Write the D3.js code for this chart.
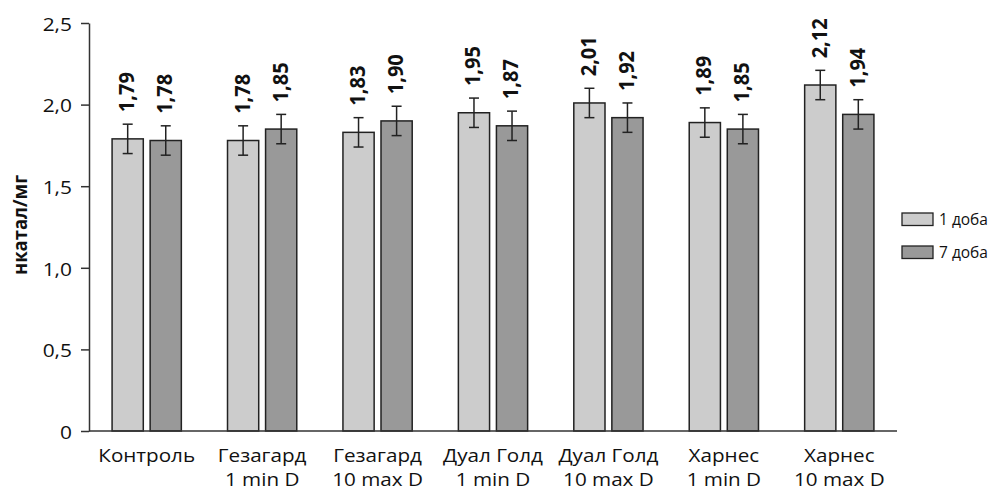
<!DOCTYPE html>
<html>
<head>
<meta charset="utf-8">
<script src="https://cdn.jsdelivr.net/npm/d3@7"></script>
<style>
  html, body { margin: 0; padding: 0; background: #fff; }
  svg { display: block; font-family: "Open Sans", "Noto Sans", sans-serif; }
</style>
</head>
<body>
<svg id="chart" width="997" height="492"></svg>
<script>
// ---- data ----
const categories = [
  ["Контроль", ""],
  ["Гезагард", "1 min D"],
  ["Гезагард", "10 max D"],
  ["Дуал Голд", "1 min D"],
  ["Дуал Голд", "10 max D"],
  ["Харнес", "1 min D"],
  ["Харнес", "10 max D"]
];
const seriesNames = ["1 доба", "7 доба"];
const day1Values = [1.79, 1.78, 1.83, 1.95, 2.01, 1.89, 2.12];
const day7Values = [1.78, 1.85, 1.90, 1.87, 1.92, 1.85, 1.94];
const day1Errors = [0.09, 0.09, 0.09, 0.09, 0.09, 0.09, 0.09];
const day7Errors = [0.09, 0.09, 0.09, 0.09, 0.09, 0.09, 0.09];
const yTickValues = [0, 0.5, 1.0, 1.5, 2.0, 2.5];
const yTickLabels = ["0", "0,5", "1,0", "1,5", "2,0", "2,5"];
const yAxisTitle = "нкатал/мг";

// ---- layout ----
const svg = d3.select("#chart");
const mLeft = 89, mRight = 897, mTop = 23, mBottom = 431;
const colors = ["#cccccc", "#999999"];
const strokeCol = "#222";
const hScale = 1.1;
const catScale = 1.18;

const catKeys = categories.map((c, i) => "c" + i);
const x0 = d3.scaleBand().domain(catKeys).range([mLeft, mRight]).paddingInner(0.4).paddingOuter(0.2);
const x1 = d3.scaleBand().domain(seriesNames).range([0, x0.bandwidth()]).paddingInner(0.18);
const y = d3.scaleLinear().domain([0, 2.5]).range([mBottom, mTop]);

const rows = [];
catKeys.forEach((k, i) => {
  rows.push({ k, s: seriesNames[0], v: day1Values[i], e: day1Errors[i], c: colors[0] });
  rows.push({ k, s: seriesNames[1], v: day7Values[i], e: day7Errors[i], c: colors[1] });
});

// bars
svg.append("g").selectAll("rect").data(rows).join("rect")
  .attr("x", d => x0(d.k) + x1(d.s))
  .attr("y", d => y(d.v))
  .attr("width", x1.bandwidth())
  .attr("height", d => y(0) - y(d.v))
  .attr("fill", d => d.c)
  .attr("stroke", strokeCol)
  .attr("stroke-width", 1.5);

// error bars
const eg = svg.append("g").attr("stroke", strokeCol).attr("stroke-width", 1.5);
rows.forEach(d => {
  const cx = x0(d.k) + x1(d.s) + x1.bandwidth() / 2;
  eg.append("line").attr("x1", cx).attr("x2", cx).attr("y1", y(d.v + d.e)).attr("y2", y(d.v - d.e));
  eg.append("line").attr("x1", cx - 5).attr("x2", cx + 5).attr("y1", y(d.v + d.e)).attr("y2", y(d.v + d.e));
  eg.append("line").attr("x1", cx - 5).attr("x2", cx + 5).attr("y1", y(d.v - d.e)).attr("y2", y(d.v - d.e));
});

// value labels
svg.append("g").selectAll("text").data(rows).join("text")
  .attr("transform", d => {
    const cx = x0(d.k) + x1(d.s) + x1.bandwidth() / 2;
    return `translate(${cx - 1},${y(d.v + d.e) - 12}) rotate(-90)`;
  })
  .attr("dy", "0.36em")
  .attr("text-anchor", "start")
  .attr("font-weight", 700)
  .attr("font-size", 20.5)
  .attr("textLength", 40)
  .attr("lengthAdjust", "spacingAndGlyphs")
  .attr("fill", "#111")
  .text(d => d3.format(".2f")(d.v).replace(".", ","));

// y axis
const yAxis = d3.axisLeft(y).tickValues(yTickValues)
  .tickFormat((d, i) => yTickLabels[i]).tickSize(8).tickPadding(7.5).tickSizeOuter(0);
const ya = svg.append("g").attr("transform", `translate(${mLeft},0)`).call(yAxis);
ya.select(".domain").attr("stroke", "#333").attr("stroke-width", 1.5);
ya.selectAll(".tick line").attr("stroke", "#333").attr("stroke-width", 1.5);
ya.selectAll(".tick text")
  .attr("font-family", "Open Sans, sans-serif")
  .attr("font-size", 19)
  .attr("fill", "#111")
  .attr("dy", "0.38em")
  .attr("transform", `scale(${hScale},1)`);

// x axis line
svg.append("line").attr("x1", mLeft).attr("x2", mRight).attr("y1", mBottom).attr("y2", mBottom)
  .attr("stroke", "#333").attr("stroke-width", 1.5);

// category labels
const cg = svg.append("g");
categories.forEach((lines, i) => {
  const cx = x0(catKeys[i]) + x0.bandwidth() / 2;
  lines.forEach((t, j) => {
    if (!t) return;
    cg.append("text")
      .attr("transform", `translate(${cx},${462 + j * 24}) scale(${catScale},1)`)
      .attr("text-anchor", "middle")
      .attr("font-size", 17.5)
      .attr("fill", "#111")
      .text(t);
  });
});

// y axis title
svg.append("text")
  .attr("transform", "translate(27,225) rotate(-90)")
  .attr("text-anchor", "middle")
  .attr("font-weight", 700)
  .attr("font-size", 19)
  .attr("textLength", 100)
  .attr("lengthAdjust", "spacingAndGlyphs")
  .attr("fill", "#111")
  .text(yAxisTitle);

// legend
const lg = svg.append("g");
seriesNames.forEach((s, i) => {
  lg.append("rect").attr("x", 902).attr("y", 213 + i * 33).attr("width", 31).attr("height", 12.5)
    .attr("fill", colors[i]).attr("stroke", strokeCol).attr("stroke-width", 1.3);
  lg.append("text").attr("x", 939).attr("y", 225 + i * 33)
    .attr("font-size", 15.5).attr("fill", "#111").text(s);
});
</script>
</body>
</html>
